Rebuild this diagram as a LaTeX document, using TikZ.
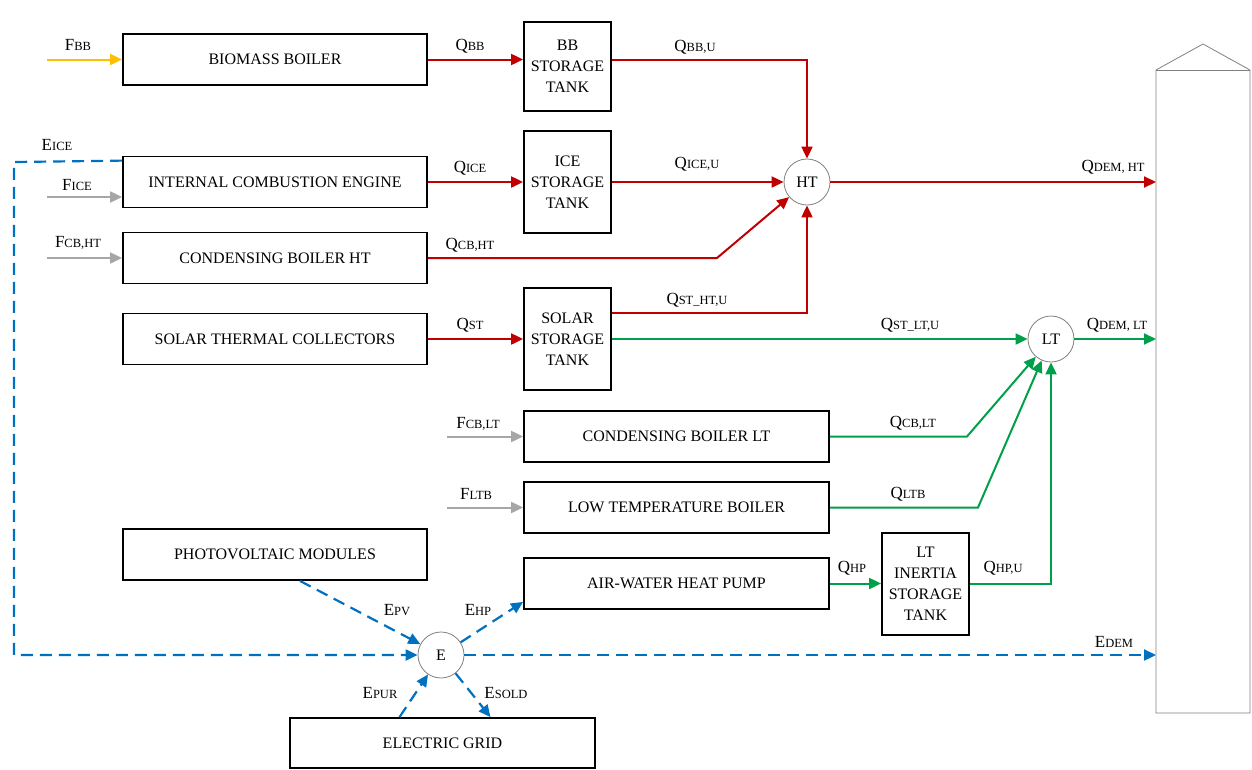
\documentclass[tikz,border=0pt]{standalone}
\usepackage{fontspec}
\setmainfont{Liberation Serif}
\usetikzlibrary{arrows.meta,calc}
\definecolor{hred}{HTML}{C00000}
\definecolor{hgreen}{HTML}{00A04A}
\definecolor{hblue}{HTML}{0070C0}
\definecolor{horange}{HTML}{FFC000}
\definecolor{hgray}{HTML}{A6A6A6}
\definecolor{hubgray}{HTML}{808080}
\newcommand{\lbl}[2]{{\fontsize{17}{17}\selectfont #1}{\fontsize{12.5}{12.5}\selectfont #2}}
\begin{document}
\begin{tikzpicture}[x=1pt,y=-1pt,
  box/.style={draw=black,line width=1.8pt,minimum width=304pt,minimum height=51pt,inner sep=0pt,font=\fontsize{16}{16}\selectfont},
  tank/.style={draw=black,line width=1.8pt,minimum width=87pt,inner sep=0pt,align=center,font=\fontsize{16}{21}\selectfont},
  hub/.style={circle,draw=hubgray,line width=0.8pt,minimum size=46pt,inner sep=0pt,fill=white,font=\fontsize{16}{16}\selectfont},
  tip/.style={-{Triangle[length=12pt,width=11pt]}},
  redf/.style={tip,draw=hred,line width=2pt},
  greenf/.style={tip,draw=hgreen,line width=2pt},
  grayf/.style={tip,draw=hgray,line width=2pt},
  orangef/.style={tip,draw=horange,line width=2pt},
  bluef/.style={tip,draw=hblue,line width=2.2pt,dash pattern=on 12pt off 7pt},
  bldg/.style={draw=hubgray,line width=0.8pt},
  lab/.style={inner sep=0pt}
]
\useasboundingbox (0,0) rectangle (1252,769);

% boxes
\node[box] (bb) at (275,59.5) {BIOMASS BOILER};
\node[box] (ice) at (275,182) {INTERNAL COMBUSTION ENGINE};
\node[box] (cbht) at (275,258) {CONDENSING BOILER HT};
\node[box] (stc) at (275,339) {SOLAR THERMAL COLLECTORS};
\node[box] (pv) at (275,554.5) {PHOTOVOLTAIC MODULES};
\node[box,minimum width=305pt] (cblt) at (676.5,436.5) {CONDENSING BOILER LT};
\node[box,minimum width=305pt] (ltb) at (676.5,507.5) {LOW TEMPERATURE BOILER};
\node[box,minimum width=305pt] (ahp) at (676.5,583.5) {AIR-WATER HEAT PUMP};
\node[box,minimum width=305pt,minimum height=50pt] (grid) at (442.5,743) {ELECTRIC GRID};

% tanks
\node[tank,minimum height=89pt] (bbst) at (567.5,66.5) {BB\\STORAGE\\TANK};
\node[tank,minimum height=102pt] (icest) at (567.5,182) {ICE\\STORAGE\\TANK};
\node[tank,minimum height=102pt] (solst) at (567.5,339) {SOLAR\\STORAGE\\TANK};
\node[tank,minimum height=102pt] (ltst) at (925.5,584) {LT\\INERTIA\\STORAGE\\TANK};

% hubs
\node[hub] (ht) at (807,182) {HT};
\node[hub] (lt) at (1051,339) {LT};
\node[hub] (e) at (441,655) {E};

% building
\draw[bldg] (1156,713) -- (1156,70) -- (1203,44) -- (1250,70) -- (1250,713) -- cycle;
\draw[bldg] (1156,70) -- (1250,70);
\coordinate (dht) at (1156,182);
\coordinate (dlt) at (1156,339);
\coordinate (dem) at (1156,655);

% fuel inputs
\coordinate (fbb) at (47,59.5);
\coordinate (fice) at (47,197);
\coordinate (fcbht) at (47,258);
\coordinate (fcblt) at (447,436.5);
\coordinate (fltb) at (447,507.5);
\draw[orangef] (fbb) -- (fbb -| bb.west);
\draw[grayf] (fice) -- (fice -| ice.west);
\draw[grayf] (fcbht) -- (cbht.west);
\draw[grayf] (fcblt) -- (cblt.west);
\draw[grayf] (fltb) -- (ltb.west);

% HT thermal
\coordinate (cbk) at (717,258);
\draw[redf] (bb.east) -- (bb.east -| bbst.west);
\draw[redf] (bb.east -| bbst.east) -| (ht.north);
\draw[redf] (ice.east) -- (icest.west);
\draw[redf] (icest.east) -- (ht.west);
\draw[redf] (cbht.east) -- (cbk) -- (ht);
\draw[redf] (stc.east) -- (solst.west);
\draw[redf] ([yshift=26pt]solst.east) -| (ht.south);
\draw[redf] (ht.east) -- (dht);

% LT thermal
\coordinate (cbltk) at (967,436.5);
\coordinate (ltbk) at (978,507.5);
\draw[greenf] (solst.east) -- (lt.west);
\draw[greenf] (cblt.east) -- (cbltk) -- (lt);
\draw[greenf] (ltb.east) -- (ltbk) -- (lt);
\draw[greenf] (ahp.east) -- (ahp.east -| ltst.west);
\draw[greenf] (ahp.east -| ltst.east) -| (lt.south);
\draw[greenf] (lt.east) -- (dlt);

% electricity
\coordinate (eicek) at (14,162);
\draw[bluef] ([yshift=-5pt]ice.north west) -- (eicek) |- (e.west);
\draw[bluef] ([xshift=25pt]pv.south) -- (e);
\draw[bluef] (e) -- ([yshift=8pt]ahp.south west);
\draw[bluef] (e.east) -- (dem);
\draw[bluef] ([xshift=-43pt]grid.north) -- (e);
\draw[bluef] (e) -- ([xshift=48pt]grid.north);

% labels
\node[lab] at (78,45) {\lbl{F}{BB}};
\node[lab] at (470,46) {\lbl{Q}{BB}};
\node[lab] at (695,47) {\lbl{Q}{BB,U}};
\node[lab] at (57,145) {\lbl{E}{ICE}};
\node[lab] at (77,185) {\lbl{F}{ICE}};
\node[lab] at (470,168) {\lbl{Q}{ICE}};
\node[lab] at (697,164) {\lbl{Q}{ICE,U}};
\node[lab] at (1113,167) {\lbl{Q}{DEM, HT}};
\node[lab] at (78,243) {\lbl{F}{CB,HT}};
\node[lab] at (470,245) {\lbl{Q}{CB,HT}};
\node[lab] at (697,300) {\lbl{Q}{ST\_HT,U}};
\node[lab] at (470,325) {\lbl{Q}{ST}};
\node[lab] at (910,325) {\lbl{Q}{ST\_LT,U}};
\node[lab] at (1117,325) {\lbl{Q}{DEM, LT}};
\node[lab] at (478,424) {\lbl{F}{CB,LT}};
\node[lab] at (913,423) {\lbl{Q}{CB,LT}};
\node[lab] at (476,494) {\lbl{F}{LTB}};
\node[lab] at (908,494) {\lbl{Q}{LTB}};
\node[lab] at (852,568) {\lbl{Q}{HP}};
\node[lab] at (1003,568) {\lbl{Q}{HP,U}};
\node[lab] at (397,610) {\lbl{E}{PV}};
\node[lab] at (478,610) {\lbl{E}{HP}};
\node[lab] at (1114,642) {\lbl{E}{DEM}};
\node[lab] at (380,693) {\lbl{E}{PUR}};
\node[lab] at (506,693) {\lbl{E}{SOLD}};
\end{tikzpicture}
\end{document}
